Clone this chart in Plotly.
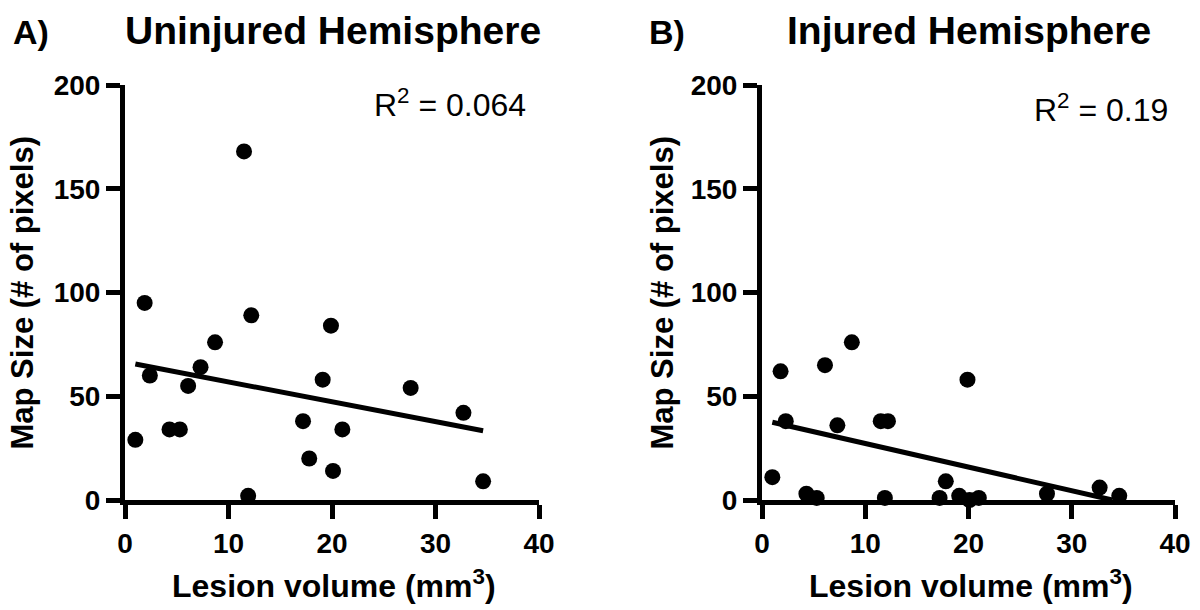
import numpy as np
import plotly.graph_objects as go

# ---------------- data ----------------
uninj_x = [1.0, 1.9, 2.4, 4.3, 5.3, 6.1, 7.3, 8.7, 11.5, 12.2, 11.9, 17.2, 17.8, 19.1, 19.9, 20.1, 21.0, 27.6, 32.7, 34.6]
uninj_y = [29, 95, 60, 34, 34, 55, 64, 76, 168, 89, 2, 38, 20, 58, 84, 14, 34, 54, 42, 9]

inj_x = [1.0, 1.8, 2.3, 4.3, 5.3, 6.1, 7.3, 8.7, 11.5, 12.2, 11.9, 17.2, 17.8, 19.9, 19.1, 20.1, 21.0, 27.6, 32.7, 34.6]
inj_y = [11, 62, 38, 3, 1, 65, 36, 76, 38, 38, 1, 1, 9, 58, 2, 0, 1, 3, 6, 2]

panel_labels = ["A)", "B)"]
panel_titles = ["Uninjured Hemisphere", "Injured Hemisphere"]
r2_labels = ["R<sup>2</sup> = 0.064", "R<sup>2</sup> = 0.19"]
x_title = "Lesion volume (mm<sup>3</sup>)"
y_title = "Map Size (# of pixels)"
x_ticks = [0, 10, 20, 30, 40]
y_ticks = [0, 50, 100, 150, 200]

# ---------------- layout helpers ----------------
W, H = 1200, 610
def px(x):
    return x / W
def py(y):
    return 1 - y / H

FONT = "Liberation Sans, Arial, sans-serif"

fig = go.Figure()

def fit_line(xs, ys):
    xs = np.asarray(xs, float)
    ys = np.asarray(ys, float)
    m, b = np.polyfit(xs, ys, 1)
    x0, x1 = xs.min(), xs.max()
    # clip at y = 0 (axis minimum)
    if m * x1 + b < 0:
        x1 = -b / m
    return [x0, x1], [m * x0 + b, m * x1 + b]

datasets = [(uninj_x, uninj_y), (inj_x, inj_y)]
axes = [("x", "y"), ("x2", "y2")]
for (xs, ys), (xa, ya) in zip(datasets, axes):
    lx, ly = fit_line(xs, ys)
    fig.add_trace(go.Scatter(x=lx, y=ly, mode="lines", xaxis=xa, yaxis=ya,
                             line=dict(color="black", width=5), showlegend=False,
                             hoverinfo="skip"))
    fig.add_trace(go.Scatter(x=xs, y=ys, mode="markers", xaxis=xa, yaxis=ya,
                             marker=dict(color="black", size=16, line=dict(width=0)),
                             cliponaxis=False, showlegend=False))

plot_left = [125, 762]
plot_right = [539, 1175]
top, bottom = 85, 500

axis_common = dict(showline=True, linecolor="black", linewidth=5, ticks="outside",
                   ticklen=14, tickwidth=5, tickcolor="black", showgrid=False,
                   zeroline=False, mirror=False, automargin=False,
                   tickfont=dict(family=FONT, size=28, color="black", weight="bold"))

fig.update_layout(
    width=W, height=H, margin=dict(l=0, r=0, t=0, b=0, autoexpand=False),
    plot_bgcolor="white", paper_bgcolor="white",
    xaxis=dict(domain=[px(plot_left[0]), px(plot_right[0])], range=[0, 40],
               tickvals=x_ticks, anchor="y", **axis_common),
    yaxis=dict(domain=[py(bottom), py(top)], range=[0, 200], tickvals=y_ticks,
               anchor="x", **axis_common),
    xaxis2=dict(domain=[px(plot_left[1]), px(plot_right[1])], range=[0, 40],
                tickvals=x_ticks, anchor="y2", **axis_common),
    yaxis2=dict(domain=[py(bottom), py(top)], range=[0, 200], tickvals=y_ticks,
                anchor="x2", **axis_common),
)

ann = []
for i in range(2):
    L, R = plot_left[i], plot_right[i]
    cx = (L + R) / 2
    # panel letter
    ann.append(dict(text=panel_labels[i], x=px([11, 647][i]), y=py(32), xref="paper", yref="paper",
                    xanchor="left", yanchor="middle", showarrow=False,
                    font=dict(family=FONT, size=34, color="black", weight="bold")))
    # panel title
    ann.append(dict(text=panel_titles[i], x=px(cx + 1), y=py(30), xref="paper", yref="paper",
                    xanchor="center", yanchor="middle", showarrow=False,
                    font=dict(family=FONT, size=39, color="black", weight="bold")))
    # R^2
    ann.append(dict(text=r2_labels[i], x=px([528, 1170][i]), y=py([103, 108][i]), xref="paper",
                    yref="paper", xanchor="right", yanchor="middle", showarrow=False,
                    font=dict(family=FONT, size=32, color="black")))
    # x title
    ann.append(dict(text=x_title, x=px(cx + 2), y=py(584), xref="paper", yref="paper",
                    xanchor="center", yanchor="middle", showarrow=False,
                    font=dict(family=FONT, size=32, color="black", weight="bold")))
    # y title
    ann.append(dict(text=y_title, x=px([22, 662][i]), y=py((top + bottom) / 2), xref="paper",
                    yref="paper", xanchor="center", yanchor="middle", showarrow=False,
                    textangle=-90,
                    font=dict(family=FONT, size=31, color="black", weight="bold")))

fig.update_layout(annotations=ann)
fig.write_html("out.html")
